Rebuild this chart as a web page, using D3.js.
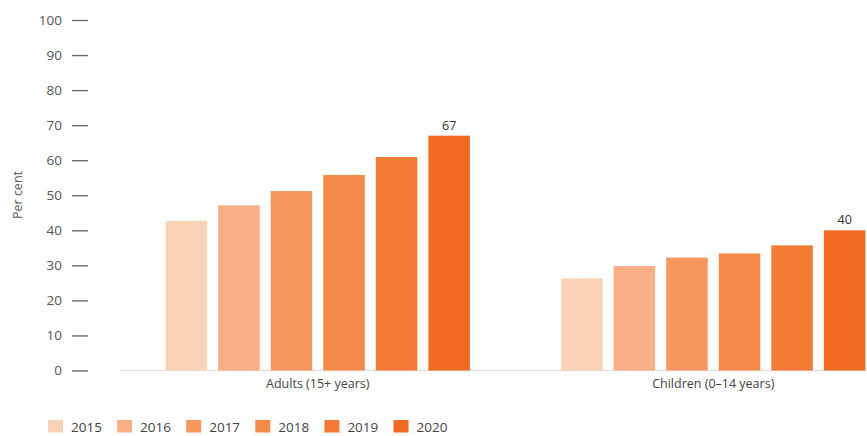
<!DOCTYPE html>
<html>
<head>
<meta charset="utf-8">
<script src="https://cdn.jsdelivr.net/npm/d3@7/dist/d3.min.js"></script>
<style>
  html, body { margin: 0; padding: 0; background: #fff; }
  svg { display: block; font-family: "Open Sans", Lato, sans-serif; }
</style>
</head>
<body>
<svg id="chart" width="867" height="436"></svg>
<script>
// Population groups and survey years
const groups = ["Adults (15+ years)", "Children (0–14 years)"];
const years = ["2015", "2016", "2017", "2018", "2019", "2020"];

// Share of each group (per cent), one array per group, ordered by year
const adults = [42.7, 47.1, 51.2, 55.8, 60.9, 67];
const children = [26.3, 29.8, 32.2, 33.4, 35.7, 40];

// Values printed above the latest bar of each group
const labelledYear = "2020";

const yTicks = [0, 10, 20, 30, 40, 50, 60, 70, 80, 90, 100];
const yearColours = ["#fcd2b6", "#f9ae85", "#f7975f", "#f5894a", "#f37b36", "#f06a22"];

const seriesByGroup = { [groups[0]]: adults, [groups[1]]: children };

const svg = d3.select("#chart");

const y = d3.scaleLinear().domain([0, 100]).range([370.5, 20]);

const x0 = d3.scaleBand().domain(groups).range([120, 911]).padding(0);
const groupSpan = 304.3;
const x1 = d3.scaleBand().domain(years).range([0, groupSpan])
  .paddingInner(0.21).paddingOuter(0);
const groupOffset = (x0.bandwidth() - groupSpan) / 2;

const colour = d3.scaleOrdinal().domain(years).range(yearColours);

// Left axis: tick labels followed by short detached dashes
const yAxis = svg.append("g")
  .attr("transform", "translate(88,0)")
  .call(d3.axisLeft(y).tickValues(yTicks).tickSize(16).tickPadding(10));
yAxis.select(".domain").remove();
yAxis.selectAll(".tick line").attr("stroke", "#6b6b6b").attr("stroke-width", 1.4);
yAxis.selectAll(".tick text")
  .attr("fill", "#555")
  .style("font-size", "13.5px")
  .style("font-family", "'Open Sans', Lato, sans-serif");

svg.append("text")
  .attr("transform", "translate(22,195) rotate(-90)")
  .attr("text-anchor", "middle")
  .attr("fill", "#555")
  .style("font-size", "12.5px")
  .text("Per cent");

// Baseline
svg.append("line")
  .attr("x1", 120).attr("x2", 867)
  .attr("y1", y(0)).attr("y2", y(0))
  .attr("stroke", "#d9d9d9").attr("stroke-width", 1.2);

// Bars
const groupG = svg.selectAll("g.group")
  .data(groups)
  .join("g")
  .attr("class", "group")
  .attr("transform", d => `translate(${x0(d) + groupOffset},0)`);

groupG.selectAll("rect")
  .data(g => years.map((yr, i) => ({ year: yr, value: seriesByGroup[g][i] })))
  .join("rect")
  .attr("x", d => x1(d.year))
  .attr("width", x1.bandwidth())
  .attr("y", d => y(d.value))
  .attr("height", d => y(0) - y(d.value))
  .attr("fill", d => colour(d.year));

// Value labels on the latest year
groupG.selectAll("text.value")
  .data(g => years.map((yr, i) => ({ year: yr, value: seriesByGroup[g][i] }))
    .filter(d => d.year === labelledYear))
  .join("text")
  .attr("class", "value")
  .attr("x", d => x1(d.year) + x1.bandwidth() / 2)
  .attr("y", d => y(d.value) - 6)
  .attr("text-anchor", "middle")
  .attr("fill", "#333")
  .style("font-size", "12.5px")
  .text(d => d3.format("d")(d.value));

// Group labels under the baseline
svg.selectAll("text.group-label")
  .data(groups)
  .join("text")
  .attr("class", "group-label")
  .attr("x", d => x0(d) + x0.bandwidth() / 2)
  .attr("y", 388)
  .attr("text-anchor", "middle")
  .attr("fill", "#444")
  .style("font-size", "12.5px")
  .text(d => d);

// Legend
const legend = svg.append("g").attr("transform", "translate(48,420)");
const item = legend.selectAll("g")
  .data(years)
  .join("g")
  .attr("transform", (d, i) => `translate(${i * 69.1},0)`);
item.append("rect")
  .attr("width", 15).attr("height", 12.5)
  .attr("fill", d => colour(d));
item.append("text")
  .attr("x", 23).attr("y", 11.5)
  .attr("fill", "#444")
  .style("font-size", "13.5px")
  .text(d => d);
</script>
</body>
</html>
